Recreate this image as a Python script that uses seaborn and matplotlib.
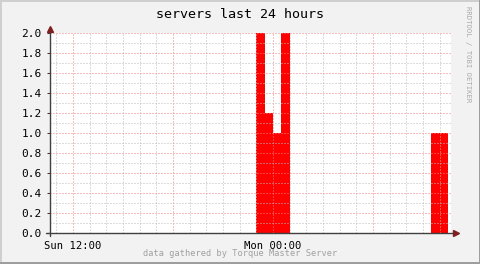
import numpy as np
import pandas as pd
import matplotlib
matplotlib.use("Agg")
import matplotlib.pyplot as plt
import seaborn as sns
from matplotlib.patches import Rectangle
from matplotlib.ticker import MultipleLocator, FixedLocator

# ---- data (hours relative to Mon 00:00, 30-minute bins) ----
bin_start_hours = [-1.0, -0.5, 0.0, 0.5, 9.5, 10.0]
server_counts = [2.0, 1.2, 1.0, 2.0, 1.0, 1.0]
x_tick_hours = [-12, 0]
x_tick_labels = ["Sun 12:00", "Mon 00:00"]
y_ticks = [0.0, 0.2, 0.4, 0.6, 0.8, 1.0, 1.2, 1.4, 1.6, 1.8, 2.0]
title = "servers last 24 hours"
footer = "data gathered by Torque Master Server"
side_text = "RRDTOOL / TOBI OETIKER"

df = pd.DataFrame({"start": bin_start_hours, "count": server_counts})
df["mid"] = df["start"] + 0.25

sns.set_theme(style="white")
plt.rcParams["font.family"] = ["DejaVu Sans Mono"]

W, H = 481, 264
fig = plt.figure(figsize=(W / 100, H / 100), dpi=100)
fig.patch.set_facecolor("#F2F2F2")

# frame
fig.add_artist(Rectangle((0, 0), 2 / W, 1, transform=fig.transFigure, color="#CFCFCF", lw=0))
fig.add_artist(Rectangle((0, 1 - 2 / H), 1, 2 / H, transform=fig.transFigure, color="#CFCFCF", lw=0))
fig.add_artist(Rectangle((1 - 2 / W, 0), 2 / W, 1, transform=fig.transFigure, color="#9E9E9E", lw=0))
fig.add_artist(Rectangle((0, 0), 1, 2 / H, transform=fig.transFigure, color="#9E9E9E", lw=0))

left, right, top, bottom = 50, 451, 33, 233
ax = fig.add_axes([left / W, 1 - bottom / H, (right - left) / W, (bottom - top) / H])
ax.set_facecolor("white")

sns.histplot(data=df, x="mid", weights="count", binwidth=0.5, binrange=(-1.0, 10.5),
             element="step", fill=True, color="#FF0000", alpha=1.0, linewidth=0, ax=ax)

px_per_hour = 400 / 24.0
ax.set_xlim(-(273 - left) / px_per_hour, (right - 273) / px_per_hour)
ax.set_ylim(0, 2.0)

for s in ax.spines.values():
    s.set_visible(False)

# grids (semi-transparent, as in rrdtool)
ax.xaxis.set_minor_locator(MultipleLocator(1))
ax.xaxis.set_major_locator(MultipleLocator(6))
ax.yaxis.set_minor_locator(MultipleLocator(0.1))
ax.yaxis.set_major_locator(FixedLocator(y_ticks))
ax.grid(which="minor", color=(0.73, 0.73, 0.73, 0.5), linestyle=(0, (1, 2)), linewidth=0.72)
ax.grid(which="major", color=(0.96, 0.5, 0.5, 0.5), linestyle=(0, (1, 2)), linewidth=0.72)
ax.set_axisbelow(False)
for c in ax.collections:
    c.set_zorder(0.5)

ax.yaxis.set_major_formatter(matplotlib.ticker.FormatStrFormatter("%.1f"))
ax.tick_params(axis="y", which="major", length=2, width=0.8, color="#404040",
               pad=4, labelsize=8, labelcolor="#000000", left=True)
ax.tick_params(axis="y", which="minor", length=0)
ax.tick_params(axis="x", which="both", length=0, labelbottom=False)
ax.set_xlabel("")
ax.set_ylabel("")

for h, lab in zip(x_tick_hours, x_tick_labels):
    ax.text(h, -0.04, lab, ha="center", va="top", fontsize=7.6, color="#000000",
            transform=ax.get_xaxis_transform(), clip_on=False)

# axes lines with arrows
ax.plot([-4 / 401, 1 + 4 / 401], [0, 0], color="#404040", lw=1, transform=ax.transAxes, clip_on=False, zorder=5)
ax.plot([0, 0], [-3 / 200, 1 + 4 / 200], color="#404040", lw=1, transform=ax.transAxes, clip_on=False, zorder=5)
ax.plot([1 + 5 / 401], [0], marker=">", color="#7F1F1F", markersize=5, transform=ax.transAxes, clip_on=False, zorder=6)
ax.plot([0], [1 + 4 / 200], marker="^", color="#7F1F1F", markersize=5, transform=ax.transAxes, clip_on=False, zorder=6)

fig.text(240 / W, 1 - 14 / H, title, ha="center", va="center", fontsize=9.6, color="#000000")
fig.text(240 / W, 1 - 254 / H, footer, ha="center", va="center", fontsize=6.2, color="#A0A0A0")
fig.text(468 / W, 1 - 54 / H, side_text, ha="center", va="center", rotation=270, fontsize=5.2, color="#AAAAAA")

fig.savefig("out.png", dpi=100, facecolor=fig.get_facecolor())
